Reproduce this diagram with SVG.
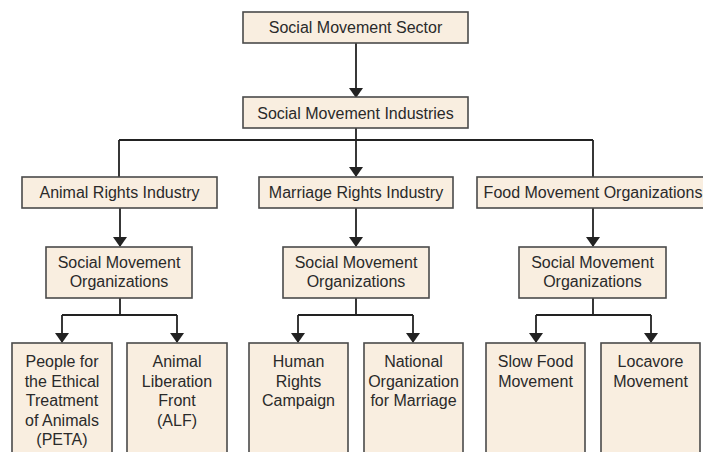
<svg xmlns="http://www.w3.org/2000/svg" width="703" height="452" viewBox="0 0 703 452">
<style>
.box{fill:#f9eee0;stroke:#4a4a4a;stroke-width:1.6}
.t{font-family:"Liberation Sans",Arial,sans-serif;font-size:16px;fill:#2a2a2a;text-anchor:middle}
.c{fill:none;stroke:#222;stroke-width:1.8}
</style>
<defs>
<marker id="ah" markerWidth="10" markerHeight="14" refX="9" refY="5" orient="auto" markerUnits="userSpaceOnUse" viewBox="0 0 10 10" preserveAspectRatio="none">
<path d="M0,0 L10,5 L0,10 Z" fill="#222"/>
</marker>
</defs>
<rect width="703" height="452" fill="#fff"/>
<g id="connectors">
<line class="c" x1="356" y1="43" x2="356" y2="97" marker-end="url(#ah)"/>
<path class="c" d="M356,128 V140 M119,140 H593 M119,140 V177 M593,140 V177"/>
<line class="c" x1="356" y1="140" x2="356" y2="176" marker-end="url(#ah)"/>
<line class="c" x1="120" y1="208" x2="120" y2="246" marker-end="url(#ah)"/>
<line class="c" x1="356" y1="208" x2="356" y2="246" marker-end="url(#ah)"/>
<line class="c" x1="593" y1="208" x2="593" y2="246" marker-end="url(#ah)"/>
<path class="c" d="M120,298 V315 M62,315 H177 M356,298 V315 M298,315 H413 M593,298 V315 M536,315 H651"/>
<line class="c" x1="62" y1="315" x2="62" y2="342" marker-end="url(#ah)"/>
<line class="c" x1="177" y1="315" x2="177" y2="342" marker-end="url(#ah)"/>
<line class="c" x1="298" y1="315" x2="298" y2="342" marker-end="url(#ah)"/>
<line class="c" x1="413" y1="315" x2="413" y2="342" marker-end="url(#ah)"/>
<line class="c" x1="536" y1="315" x2="536" y2="342" marker-end="url(#ah)"/>
<line class="c" x1="651" y1="315" x2="651" y2="342" marker-end="url(#ah)"/>
</g>
<g id="sector"><rect class="box" x="243" y="12" width="225" height="31"/><text class="t" x="355.5" y="33">Social Movement Sector</text></g>
<g id="industries"><rect class="box" x="243" y="97" width="225" height="31"/><text class="t" x="355.5" y="119">Social Movement Industries</text></g>
<g id="animal"><rect class="box" x="22" y="177" width="195" height="31"/><text class="t" x="119.5" y="198">Animal Rights Industry</text></g>
<g id="marriage"><rect class="box" x="259" y="177" width="194" height="31"/><text class="t" x="356" y="198">Marriage Rights Industry</text></g>
<g id="food"><rect class="box" x="477" y="177" width="232" height="31"/><text class="t" x="593" y="198">Food Movement Organizations</text></g>
<g id="smo1"><rect class="box" x="46" y="247" width="146" height="51"/><text class="t" x="119" y="268">Social Movement</text><text class="t" x="119" y="287">Organizations</text></g>
<g id="smo2"><rect class="box" x="283" y="247" width="146" height="51"/><text class="t" x="356" y="268">Social Movement</text><text class="t" x="356" y="287">Organizations</text></g>
<g id="smo3"><rect class="box" x="519" y="247" width="147" height="51"/><text class="t" x="592.5" y="268">Social Movement</text><text class="t" x="592.5" y="287">Organizations</text></g>
<g id="peta"><rect class="box" x="12" y="343" width="100" height="120"/><text class="t" x="62" y="367">People for</text><text class="t" x="62" y="386.5">the Ethical</text><text class="t" x="62" y="406">Treatment</text><text class="t" x="62" y="425.5">of Animals</text><text class="t" x="62" y="445">(PETA)</text></g>
<g id="alf"><rect class="box" x="127" y="343" width="100" height="120"/><text class="t" x="177" y="367">Animal</text><text class="t" x="177" y="386.5">Liberation</text><text class="t" x="177" y="406">Front</text><text class="t" x="177" y="425.5">(ALF)</text></g>
<g id="hrc"><rect class="box" x="249" y="343" width="99" height="120"/><text class="t" x="298.5" y="367">Human</text><text class="t" x="298.5" y="386.5">Rights</text><text class="t" x="298.5" y="406">Campaign</text></g>
<g id="nom"><rect class="box" x="364" y="343" width="99" height="120"/><text class="t" x="413.5" y="367">National</text><text class="t" x="413.5" y="386.5">Organization</text><text class="t" x="413.5" y="406">for Marriage</text></g>
<g id="slowfood"><rect class="box" x="486" y="343" width="99" height="120"/><text class="t" x="535.5" y="367">Slow Food</text><text class="t" x="535.5" y="386.5">Movement</text></g>
<g id="locavore"><rect class="box" x="601" y="343" width="99" height="120"/><text class="t" x="650.5" y="367">Locavore</text><text class="t" x="650.5" y="386.5">Movement</text></g>
</svg>
